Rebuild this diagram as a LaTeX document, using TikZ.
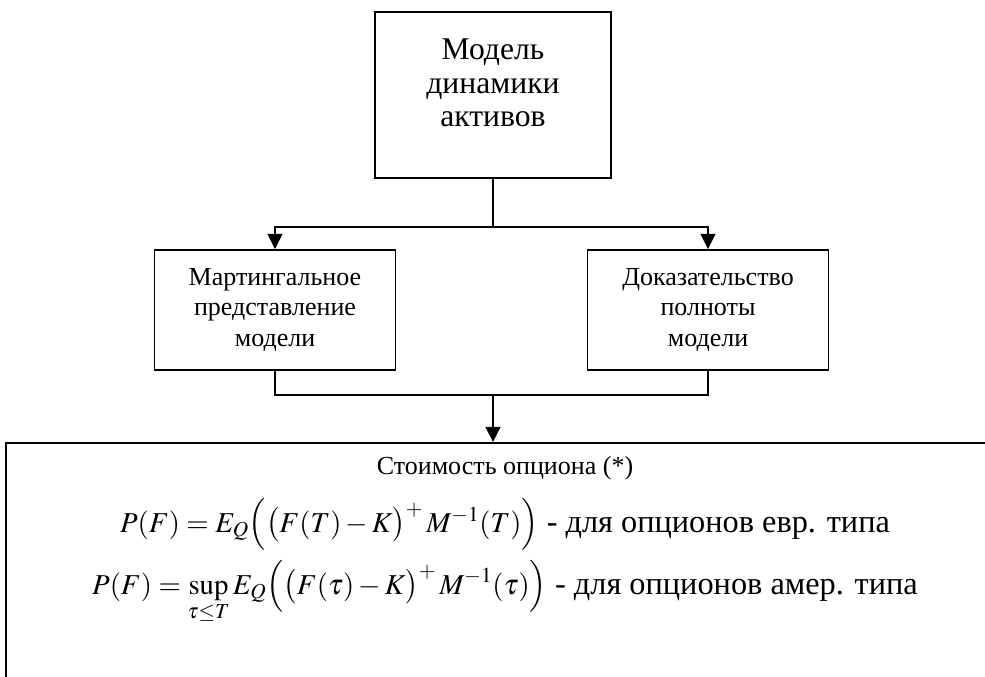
\documentclass[tikz,border=0pt]{standalone}
\usepackage{mathptmx}
\usepackage{fontspec}
\setmainfont{Liberation Serif}
\usepackage{tikz}
\usetikzlibrary{calc, positioning, arrows.meta}
\newcommand{\mathsize}{\fontsize{20.5}{21.5}\selectfont}
\tikzset{
    block/.style = {
        draw,
        line width     = 1.3pt,
        minimum width  = 6.025cm,
        minimum height = 3cm,
        align          = center,
        font           = \fontsize{18.5}{22}\selectfont,
    },
    link/.style    = {line width = 1.3pt},
    arrow/.style   = {link, -{Triangle[length = 0.38cm, width = 0.37cm]}},
    formula/.style = {inner sep = 0pt, font = \fontsize{23}{28}\selectfont},
}

\begin{document}
\begin{tikzpicture}
    \useasboundingbox (0, 0) rectangle (24.625, -16.925);
    \clip (0, 0) rectangle (24.625, -16.925);

    \node (model) [block, minimum width = 5.9cm, minimum height = 4.15cm] at (12.325, -2.375) {};
    \node (modeltext) [align = center, inner sep = 0pt, font = \fontsize{22.5}{24}\selectfont] at ([yshift = 0.3cm] model.center) {Модель\\динамики\\активов};

    \node (mart)  [block] at (6.875, -7.75) {Мартингальное\\представление\\модели};
    \node (proof) [block] at (17.7, -7.75)  {Доказательство\\полноты\\модели};

    \node (price) [draw, line width = 1.3pt, minimum width = 25cm, minimum height = 7cm, anchor = north west] at (0.125, -11.05) {};

    \draw [link] (model.south) -- ++(0, -1.2) coordinate (split);
    \draw [arrow] (split) -| (mart.north);
    \draw [arrow] (split) -| (proof.north);

    \draw [link] (mart.south) -- ++(0, -0.6) coordinate (merge) -| (proof.south);
    \draw [arrow] (merge -| model.south) -- (price.north -| model.south);

    % option price
    \node (pricetitle) [formula, font = \fontsize{18.5}{22}\selectfont, anchor = base] at (12.625, -11.85) {Стоимость опциона (*)};
    \node (european) [formula, anchor = base] at (12.625, -13.3) {{\mathsize$P(F) = E_Q\Big(\big(F(T) - K\big)^{+}\, M^{-1}(T)\Big)$} - для опционов евр. типа};
    \node (american) [formula, anchor = base] at (12.625, -14.85) {{\mathsize$\displaystyle P(F) = \sup_{\tau \le T} E_Q\Big(\big(F(\tau) - K\big)^{+}\, M^{-1}(\tau)\Big)$} - для опционов амер. типа};
\end{tikzpicture}
\end{document}
